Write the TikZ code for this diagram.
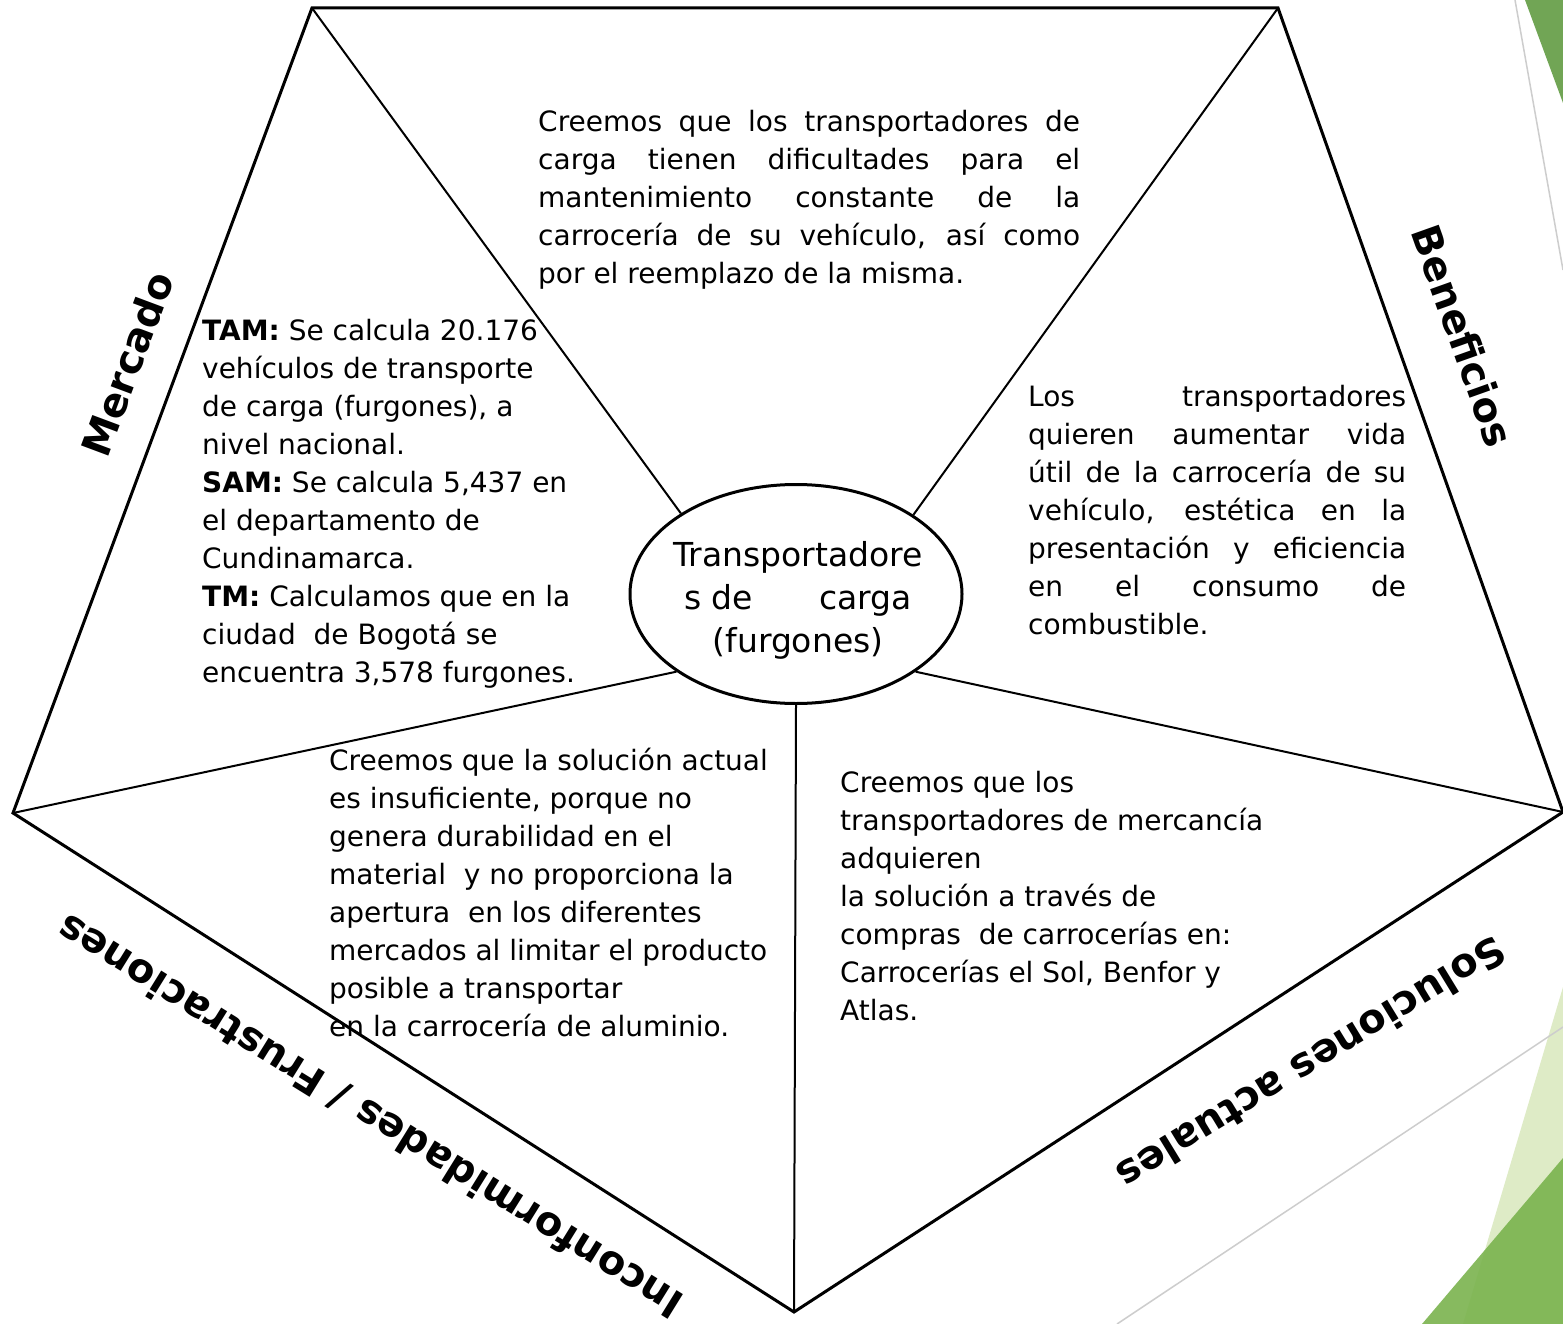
\documentclass[tikz,border=0pt]{standalone}
\usepackage{fontspec}
\setmainfont{DejaVu Sans}
\usetikzlibrary{shapes.geometric}
\definecolor{gdark}{RGB}{113,165,85}
\definecolor{glight}{RGB}{222,235,198}
\definecolor{gmid}{RGB}{122,179,78}
\definecolor{greyln}{RGB}{205,205,205}
\begin{document}
\begin{tikzpicture}[x=1pt,y=-1pt,
  edge/.style={line width=3pt, line join=miter},
  spoke/.style={line width=2pt},
  body/.style={inner sep=0pt, anchor=base west, font=\fontsize{28}{38}\selectfont},
  lbl/.style={inner sep=0pt, font=\fontsize{40}{48}\selectfont\bfseries},
  deco/.style={line width=1.5pt, draw=greyln}]
\useasboundingbox (0,0) rectangle (1563,1324);
\fill[white] (0,0) rectangle (1563,1324);
% background decoration
\fill[gdark] (1525,0) -- (1563,0) -- (1563,103) -- cycle;
\draw[deco] (1515,0) -- (1563,270);
\fill[glight] (1563,987) -- (1463,1324) -- (1563,1324) -- cycle;
\fill[gmid, opacity=0.9] (1563,1158) -- (1422,1324) -- (1563,1324) -- cycle;
\draw[deco] (1563,1027) -- (1117,1324);
% pentagon
\coordinate (tl) at (312,8);
\coordinate (tr) at (1278,8);
\coordinate (r) at (1563,812);
\coordinate (b) at (794,1312);
\coordinate (l) at (13,813);
\draw[edge] (tl) -- (tr) -- (r) -- (b) -- (l) -- cycle;
% centre
\node[ellipse, draw, line width=3pt, minimum width=332pt, minimum height=219pt,
  inner sep=0pt] (c) at (796,594) {};
\node[inner sep=0pt, align=center, font=\fontsize{33}{43}\selectfont] (ctext) at (798,600)
  {Transportadore\\s de\hspace{66pt}carga\\(furgones)};
\draw[spoke] (c.145) -- (tl);
\draw[spoke] (c.34) -- (tr);
\draw[spoke] (c.213) -- (l);
\draw[spoke] (c.327) -- (r);
\draw[spoke] (c.270) -- (b);
% texts
\node[body] (ttop) at (538,132) {\parbox[t]{542pt}{%
\makebox[542pt][s]{Creemos que los transportadores de}\\
\makebox[542pt][s]{carga tienen dificultades para el}\\
\makebox[542pt][s]{mantenimiento constante de la}\\
\makebox[542pt][s]{carrocería de su vehículo, así como}\\
por el reemplazo de la misma.}};
\node[body] (tleft) at (202,340) {\parbox[t]{390pt}{\raggedright
\textbf{TAM:} Se calcula 20.176\\
vehículos de transporte\\
de carga (furgones), a\\
nivel nacional.\\
\textbf{SAM:} Se calcula 5,437 en\\
el departamento de\\
Cundinamarca.\\
\textbf{TM:} Calculamos que en la\\
ciudad\ \ de Bogotá se\\
encuentra 3,578 furgones.}};
\node[body] (tright) at (1028,406) {\parbox[t]{378pt}{%
\makebox[378pt][s]{Los transportadores}\\
\makebox[378pt][s]{quieren aumentar vida}\\
\makebox[378pt][s]{útil de la carrocería de su}\\
\makebox[378pt][s]{vehículo, estética en la}\\
\makebox[378pt][s]{presentación y eficiencia}\\
\makebox[378pt][s]{en el consumo de}\\
combustible.}};
\node[body] (tbl) at (329,770) {\parbox[t]{462pt}{\raggedright
Creemos que la solución actual\\
es insuficiente, porque no\\
genera durabilidad en el\\
material\ \ y no proporciona la\\
apertura\ \ en los diferentes\\
mercados al limitar el producto\\
posible a transportar\\
en la carrocería de aluminio.}};
\node[body] (tbr) at (840,792) {\parbox[t]{455pt}{\raggedright
Creemos que los\\
transportadores de mercancía\\
adquieren\\
la solución a través de\\
compras\ \ de carrocerías en:\\
Carrocerías el Sol, Benfor y\\
Atlas.}};
% labels
\node[lbl, rotate=69.5] (lm) at (127,364) {Mercado};
\node[lbl, rotate=-70.4] (lb) at (1463,336) {Beneficios};
\node[lbl, rotate=211.4] (ls) at (1312,1064) {Soluciones actuales};
\node[lbl, rotate=148.2] (li) at (370,1116) {Inconformidades / Frustraciones};
\end{tikzpicture}
\end{document}
